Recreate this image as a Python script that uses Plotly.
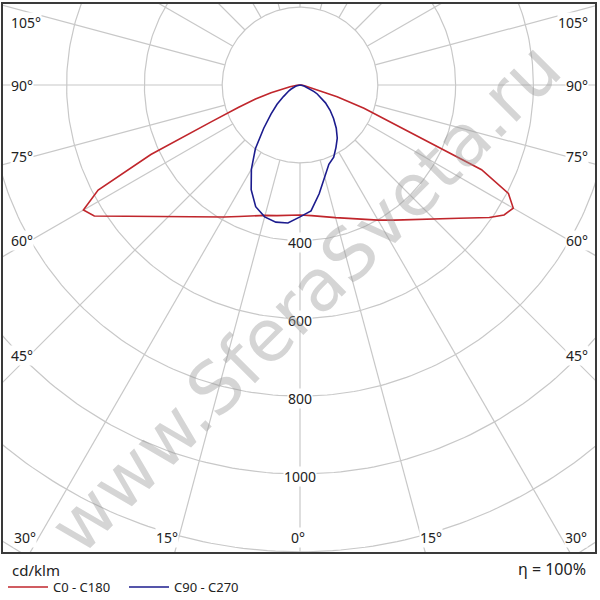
import numpy as np
import plotly.graph_objects as go

# Кривые силы света, кд/клм (гамма-углы от надира)
gamma = [0, 5, 10, 15, 20, 25, 30, 35, 40, 45, 50, 55, 57.5, 60, 62.5, 65,
         67.5, 70, 72.5, 75, 77.5, 80, 85, 90]
c0 = [334, 337, 344, 353, 365, 381, 401, 424, 451, 487, 533, 594, 622, 633,
      604, 515, 274, 175, 100, 45, 25, 12, 4, 0]
c180 = [334, 336, 341, 347, 358, 373, 392, 415, 444, 480, 527, 588, 627, 643,
        585, 423, 246, 169, 120, 77, 48, 26, 8, 0]
c90 = [339, 325, 284, 243, 217, 205, 185, 167, 145, 122, 101, 80, 69, 59,
       50, 40, 30, 21, 15, 12, 9, 6, 2, 0]
c270 = [339, 356, 358, 351, 333, 297, 250, 200, 145, 105, 77, 52, 45, 38,
        32, 26, 21, 17, 13, 10, 8, 6, 3, 0]

ring_values = [200, 400, 600, 800, 1000, 1200, 1400, 1600]
ring_labels = [400, 600, 800, 1000]
side_angles = [105, 90, 75, 60, 45]
bottom_angles = [30, 15, 0, 15, 30]

# геометрия картинки (пиксели)
W, H = 600, 600
left, right, top, bottom = 3, 595, 4, 552
cx, cy = 300, 85
k = 0.389  # пикселей на 1 кд/клм

xr = [(left - cx) / k, (right - cx) / k]
yr = [-(bottom - cy) / k, (cy - top) / k]


def px(x):
    return (x - left) / (right - left)


def py(y):
    return (bottom - y) / (bottom - top)


def curve(g, l_vals, r_vals):
    g = np.radians(np.array(g, dtype=float))
    l_vals = np.array(l_vals, dtype=float)
    r_vals = np.array(r_vals, dtype=float)
    x = np.concatenate([(-l_vals * np.sin(g))[::-1], (r_vals * np.sin(g))[1:]])
    y = np.concatenate([(-l_vals * np.cos(g))[::-1], (-r_vals * np.cos(g))[1:]])
    return x, y


grid_col = "#c8c8c8"
fig = go.Figure()

# сетка: окружности
t = np.linspace(0, 2 * np.pi, 361)
gx, gy = [], []
for r in ring_values:
    gx += list(r * np.cos(t)) + [None]
    gy += list(r * np.sin(t)) + [None]
# лучи через 15°
for a in range(0, 360, 15):
    ar = np.radians(a)
    gx += [200 * np.sin(ar), 2000 * np.sin(ar), None]
    gy += [-200 * np.cos(ar), -2000 * np.cos(ar), None]
fig.add_trace(go.Scatter(x=gx, y=gy, mode="lines", line=dict(color=grid_col, width=1.2),
                         hoverinfo="skip", showlegend=False))

x1, y1 = curve(gamma, c180, c0)
fig.add_trace(go.Scatter(x=x1, y=y1, mode="lines", name="C0 - C180",
                         line=dict(color="#c0262c", width=1.6)))
x2, y2 = curve(gamma, c270, c90)
fig.add_trace(go.Scatter(x=x2, y=y2, mode="lines", name="C90 - C270",
                         line=dict(color="#1c1c8e", width=1.6)))

fam = "Noto Sans"
font = dict(family=fam, size=14, color="#222222")
ann = []
for v in ring_labels:
    ann.append(dict(x=0, y=-v, xref="x", yref="y", text=str(v), showarrow=False,
                    font=font, bgcolor="white", yshift=-2, borderpad=0))

side_y = [22.7, 85, 157, 240, 355]
for a, yy in zip(side_angles, side_y):
    ann.append(dict(x=px(10), y=py(yy), xref="paper", yref="paper", text=f"{a}°",
                    xanchor="left", yanchor="middle", showarrow=False, font=font,
                    bgcolor="white", borderpad=0))
    ann.append(dict(x=px(589), y=py(yy), xref="paper", yref="paper", text=f"{a}°",
                    xanchor="right", yanchor="middle", showarrow=False, font=font,
                    bgcolor="white", borderpad=0))

bottom_x = [25, 167, 298, 431, 576]
for a, xx in zip(bottom_angles, bottom_x):
    ann.append(dict(x=px(xx), y=py(537), xref="paper", yref="paper", text=f"{a}°",
                    xanchor="center", yanchor="middle", showarrow=False, font=font,
                    bgcolor="white", borderpad=0))

ann.append(dict(x=px(10), y=py(570), xref="paper", yref="paper", text="cd/klm",
                xanchor="left", yanchor="middle", showarrow=False,
                font=dict(family=fam, size=15, color="#222222")))
ann.append(dict(x=px(588), y=py(569), xref="paper", yref="paper", text="η = 100%",
                xanchor="right", yanchor="middle", showarrow=False,
                font=dict(family=fam, size=16, color="#222222")))

# водяной знак
ann.append(dict(x=px(305), y=py(298), xref="paper", yref="paper", text="www.SferaSveta.ru",
                xanchor="center", yanchor="middle", showarrow=False, textangle=-45,
                font=dict(family="DejaVu Sans", size=72, color="rgba(150,150,150,0.4)")))

axis = dict(visible=True, showticklabels=False, ticks="", showgrid=False, zeroline=False,
            showline=True, mirror=True, linecolor="#3a3a3a", linewidth=2, fixedrange=True)

fig.update_layout(
    width=W, height=H,
    margin=dict(l=left, r=W - right, t=top, b=H - bottom, autoexpand=False),
    paper_bgcolor="white", plot_bgcolor="white",
    xaxis=dict(range=xr, **axis),
    yaxis=dict(range=yr, **axis),
    annotations=ann,
    legend=dict(orientation="h", x=0, xanchor="left", y=py(587), yanchor="middle",
                font=dict(family=fam, size=13, color="#222222"),
                itemwidth=40, entrywidth=66, entrywidthmode="pixels",
                bgcolor="rgba(0,0,0,0)"),
    showlegend=True,
)

# убрать отступы страницы, чтобы график стоял в углу окна
fig.write_html("out.html", config={"displayModeBar": False},
               post_script="document.body.style.margin='0';")
